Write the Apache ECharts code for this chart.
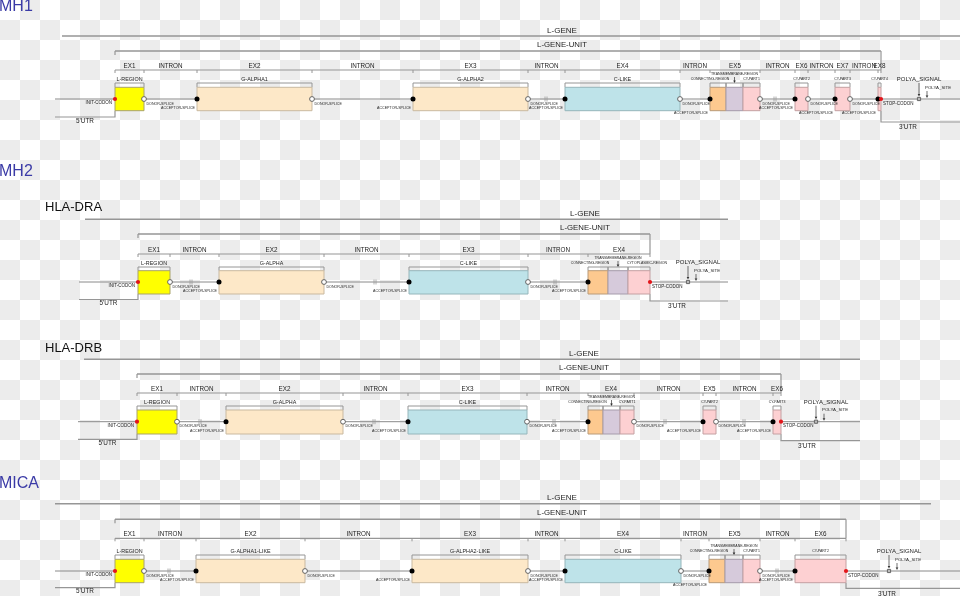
<!DOCTYPE html>
<html><head><meta charset="utf-8">
<script src="https://cdn.jsdelivr.net/npm/echarts@6/dist/echarts.min.js"></script>
<style>
html,body{margin:0;padding:0;width:960px;height:596px;overflow:hidden;
background-color:#fff;
background-image:repeating-conic-gradient(#ececec 0 25%, #ffffff 0 50%);
background-size:40px 40px;}
#main{width:960px;height:596px;}
</style></head><body><div id="main"></div>
<script>
// ================= DATA =================
const sectionTitles = ['MH1', 'MH2', 'MICA'];
const geneTitles = ['HLA-DRA', 'HLA-DRB'];
const exonPrefix = 'EX';
const intronLabel = 'INTRON';

// ---- MH1 ----
const mh1Span = [55, 960];
const mh1Gene = [62, 960];
const mh1Exons = [[115,144],[197,312],[413,528],[565,680],[710,760],[795,808],[835,850],[878,881]];
const mh1Regions = ['L-REGION','G-ALPHA1','G-ALPHA2','C-LIKE','CONNECTING-REGION','TRANSMEMBRANE-REGION','CY-PART1','CY-PART2','CY-PART3','CY-PART4'];
const mh1RegionSpans = [[115,144],[197,312],[413,528],[565,680],[710,726],[726,743],[743,760],[795,808],[835,850],[878,881]];
const mh1PolyA = [919, 927];
const mh1Breaks = [546, 775];

// ---- HLA-DRA ----
const draSpan = [79, 728];
const draGene = [85, 728];
const draExons = [[138,170],[219,324],[409,528],[588,650]];
const draRegions = ['L-REGION','G-ALPHA','C-LIKE','CONNECTING-REGION','TRANSMEMBRANE-REGION','CYTOPLASMIC-REGION'];
const draRegionSpans = [[138,170],[219,324],[409,528],[588,608],[608,628],[628,650]];
const draPolyA = [688, 696];
const draBreaks = [191, 375, 555];

// ---- HLA-DRB ----
const drbSpan = [78, 860];
const drbGene = [84, 860];
const drbExons = [[137,177],[226,343],[408,527],[588,634],[703,716],[773,781]];
const drbRegions = ['L-REGION','G-ALPHA','C-LIKE','CONNECTING-REGION','TRANSMEMBRANE-REGION','CY-PART1','CY-PART2','CY-PART3'];
const drbRegionSpans = [[137,177],[226,343],[408,527],[588,603],[603,620],[620,634],[703,716],[773,781]];
const drbPolyA = [816, 824];
const drbBreaks = [200, 374, 554, 665, 744];

// ---- MICA ----
const micaSpan = [55, 960];
const micaGene = [55, 931];
const micaExons = [[115,144],[196,305],[412,528],[565,681],[709,760],[795,846]];
const micaRegions = ['L-REGION','G-ALPHA1-LIKE','G-ALPHA2-LIKE','C-LIKE','CONNECTING-REGION','TRANSMEMBRANE-REGION','CY-PART1','CY-PART2'];
const micaRegionSpans = [[115,144],[196,305],[412,528],[565,681],[709,725],[725,743],[743,760],[795,846]];
const micaPolyA = [889, 897];
const micaBreaks = [169, 777];

const genes = [
  {span: mh1Span, gene: mh1Gene, exons: mh1Exons, regions: mh1Regions, regionSpans: mh1RegionSpans, polyA: mh1PolyA, breaks: mh1Breaks},
  {span: draSpan, gene: draGene, exons: draExons, regions: draRegions, regionSpans: draRegionSpans, polyA: draPolyA, breaks: draBreaks},
  {span: drbSpan, gene: drbGene, exons: drbExons, regions: drbRegions, regionSpans: drbRegionSpans, polyA: drbPolyA, breaks: drbBreaks},
  {span: micaSpan, gene: micaGene, exons: micaExons, regions: micaRegions, regionSpans: micaRegionSpans, polyA: micaPolyA, breaks: micaBreaks}
];

// ================= LAYOUT / STYLE =================
const sectionTitlePos = [[-1, 7], [-1, 172], [-1, 483.5]];
const geneTitlePos = [[45, 207], [45, 348.3]];
const panelLayout = [
  {backbone:99,    lgene:36,    unit:51,    exonRow:70,    regionRow:83,  boxTop:87.3,  boxBottom:110.7, utr5:117,   utr3:122,   labelX:562, utr3LabelX:908, polyaLabelX:919},
  {backbone:282,   lgene:219.3, unit:234,   exonRow:254,   regionRow:267, boxTop:270.7, boxBottom:294,   utr5:299.5, utr3:301,   labelX:585, utr3LabelX:677, polyaLabelX:698},
  {backbone:421.7, lgene:359.3, unit:374,   exonRow:393,   regionRow:406, boxTop:410,   boxBottom:434,   utr5:439.3, utr3:440.7, labelX:584, utr3LabelX:807, polyaLabelX:826},
  {backbone:571,   lgene:503.7, unit:519.3, exonRow:538.3, regionRow:555, boxTop:559.3, boxBottom:582.7, utr5:587.7, utr3:588.3, labelX:562, utr3LabelX:887, polyaLabelX:899}
];
const FONT = '"Liberation Sans", Arial, sans-serif';
const LINE = '#969696';
const TXT = '#1e1e1e';
const BLUE = '#3a3aa6';
function regionStyle(name){
  if (name.startsWith('L-')) return {fill:'#ffff00', stroke:'#a9a36a', small:false};
  if (name.startsWith('G-')) return {fill:'#fde8c8', stroke:'#c9b9a0', small:false};
  if (name.startsWith('C-LIKE')) return {fill:'#bee3e9', stroke:'#96b6bb', small:false};
  if (name.startsWith('CONNECTING')) return {fill:'#fdc98f', stroke:'#b99a78', small:true};
  if (name.startsWith('TRANSMEMBRANE')) return {fill:'#d6cadb', stroke:'#a69cab', small:true};
  return {fill:'#fdd0d2', stroke:'#c4a0a2', small:true};
}

// ================= BUILD ELEMENTS =================
const els = [];
function text(x, y, t, size, opts){
  els.push(Object.assign({k:'text', x, y, text:t, size, fill:TXT, align:'center', z:6}, opts||{}));
}
function line(x1, y1, x2, y2, color, w, z){ els.push({k:'line', x1, y1, x2, y2, color:color||LINE, w:w||1.2, z:z||0}); }

sectionTitles.forEach((t,i)=> text(sectionTitlePos[i][0], sectionTitlePos[i][1], t, 16, {fill:BLUE, align:'left'}));
geneTitles.forEach((t,i)=> text(geneTitlePos[i][0], geneTitlePos[i][1], t, 13, {fill:'#111', align:'left'}));

genes.forEach((g, gi)=>{
  const L = panelLayout[gi];
  const B = L.backbone;
  const n = g.exons.length;
  const first = g.exons[0][0], last = g.exons[n-1][1];
  // L-GENE
  line(g.gene[0], L.lgene, g.gene[1], L.lgene, LINE, 1.4);
  text(L.labelX, L.lgene-5.5, 'L-GENE', 8);
  // L-GENE-UNIT bracket
  line(first, L.unit, last, L.unit, LINE, 1.4);
  line(first, L.unit, first, L.unit+4, LINE, 1.2);
  line(last, L.unit, last, L.exonRow, LINE, 1.2);
  text(L.labelX, L.unit-6.2, 'L-GENE-UNIT', 7.8);
  // exon / intron row
  line(first, L.exonRow, last, L.exonRow, LINE, 1.2);
  g.exons.forEach(([a,b], i)=>{
    line(a, L.exonRow, a, L.exonRow+3, LINE, 1);
    line(b, L.exonRow, b, L.exonRow+3, LINE, 1);
    text((a+b)/2, L.exonRow-4, exonPrefix+(i+1), 6.3);
    if (i < n-1){ const c = g.exons[i+1][0]; text((b+c)/2, L.exonRow-4, intronLabel, 6.3); }
  });
  // backbone
  line(g.span[0], B, g.span[1], B, '#8a8a8a', 1);
  g.breaks.forEach(v=>{ line(v-1, B-2.5, v-1, B+2.5, '#9a9a9a', 0.8, 1); line(v+1, B-2.5, v+1, B+2.5, '#9a9a9a', 0.8, 1); });
  // UTRs
  els.push({k:'poly', pts:[[g.span[0], L.utr5],[first, L.utr5],[first, L.boxBottom]], color:LINE, w:1.2});
  text((g.span[0]+first)/2, L.utr5+4, "5'UTR", 6.4);
  els.push({k:'poly', pts:[[last, L.boxBottom],[last, L.utr3],[g.span[1], L.utr3]], color:LINE, w:1.2});
  text(L.utr3LabelX, L.utr3+5.5, "3'UTR", 6.4);
  // region boxes + brackets + labels
  g.regionSpans.forEach(([a,b], i)=>{
    const name = g.regions[i];
    const st = regionStyle(name);
    els.push({k:'rect', x1:a, y1:L.boxTop, x2:b, y2:L.boxBottom, fill:st.fill, stroke:st.stroke, z:2});
    line(a, L.regionRow, b, L.regionRow, LINE, 1, 1);
    line(a, L.regionRow, a, L.boxTop, LINE, 1, 1);
    line(b, L.regionRow, b, L.boxTop, LINE, 1, 1);
    if (name.startsWith('TRANSMEMBRANE')){
      const c = (a+b)/2;
      text(c, L.regionRow-8.8, name, 3.5);
      line(c, L.regionRow-6, c, L.regionRow-1, '#333', 0.7, 5);
      els.push({k:'tri', x:c, y:L.regionRow, z:5});
    } else if (name.startsWith('CONNECTING')){
      text((a+b)/2-8, L.regionRow-3.5, name, 3.5);
    } else if (st.small){
      if (name.length > 10) text(a-1, L.regionRow-3.5, name, 3.5, {align:'left'});
      else text((a+b)/2, L.regionRow-3.5, name, 3.5);
    } else {
      text((a+b)/2, L.regionRow-3.5, name, 5.4);
    }
  });
  // splice sites / codons
  g.exons.forEach(([a,b], i)=>{
    if (i === 0){
      els.push({k:'circle', x:a, y:B, r:2.1, fill:'#e3161b', stroke:null, z:4});
      text(a-3, B+4, 'INIT-CODON', 4.5, {align:'right'});
    } else {
      els.push({k:'circle', x:a, y:B, r:2.5, fill:'#000', stroke:null, z:4});
      const gap = a - g.exons[i-1][1];
      text(a-2, B + (gap < 32 ? 14 : 9), 'ACCEPTOR-SPLICE', 3.6, {align:'right'});
    }
    if (i === n-1){
      els.push({k:'circle', x:b, y:B, r:2.1, fill:'#e3161b', stroke:null, z:4});
      text(b+2, B+4.5, 'STOP-CODON', 4.5, {align:'left'});
    } else {
      els.push({k:'circle', x:b, y:B, r:2.4, fill:'#fff', stroke:'#555', z:4});
      text(b+2.5, B+4.5, 'DONOR-SPLICE', 3.6, {align:'left'});
    }
  });
  // poly-A
  const [ps, pt] = g.polyA;
  line(ps, B-16, ps, B-4, '#333', 0.7, 5);
  els.push({k:'tri', x:ps, y:B-2.5, z:5});
  els.push({k:'rect', x1:ps-1.6, y1:B-1.6, x2:ps+1.6, y2:B+1.6, fill:'#bbb', stroke:'#666', z:4});
  text(L.polyaLabelX, B-19.8, 'POLYA_SIGNAL', 6);
  line(pt, B-8, pt, B-3, '#333', 0.7, 5);
  els.push({k:'tri', x:pt, y:B-1, z:5});
  text(pt-2, B-11.7, 'POLYA_SITE', 4.4, {align:'left'});
});

// ================= RENDER =================
function renderItem(params, api){
  const e = els[params.dataIndex];
  const X = v => api.coord([v, 0])[0];
  const Y = v => api.coord([0, v])[1];
  switch (e.k){
    case 'line':
      return {type:'line', z2:e.z, shape:{x1:X(e.x1), y1:Y(e.y1), x2:X(e.x2), y2:Y(e.y2)}, style:{stroke:e.color, lineWidth:e.w}};
    case 'poly':
      return {type:'polyline', z2:0, shape:{points:e.pts.map(p=>[X(p[0]), Y(p[1])])}, style:{stroke:e.color, lineWidth:e.w, fill:null}};
    case 'rect':
      return {type:'rect', z2:e.z, shape:{x:X(e.x1), y:Y(e.y1), width:X(e.x2)-X(e.x1), height:Y(e.y2)-Y(e.y1)}, style:{fill:e.fill, stroke:e.stroke, lineWidth:1}};
    case 'circle':
      return {type:'circle', z2:e.z, shape:{cx:X(e.x), cy:Y(e.y), r:e.r}, style:{fill:e.fill, stroke:e.stroke, lineWidth:e.stroke?0.9:0}};
    case 'tri': {
      const cx = X(e.x), cy = Y(e.y);
      return {type:'polygon', z2:e.z, shape:{points:[[cx-1.3, cy-2.4],[cx+1.3, cy-2.4],[cx, cy]]}, style:{fill:'#333'}};
    }
    case 'text':
      return {type:'text', z2:e.z, x:X(e.x), y:Y(e.y), style:{text:e.text, fill:e.fill, font:e.size+'px '+FONT, align:e.align, verticalAlign:'middle', textAlign:e.align, textVerticalAlign:'middle'}};
  }
}

const chart = echarts.init(document.getElementById('main'), null, {renderer:'canvas'});
chart.setOption({
  animation:false,
  backgroundColor:'transparent',
  grid:{left:0, right:0, top:0, bottom:0},
  xAxis:{type:'value', min:0, max:960, show:false},
  yAxis:{type:'value', min:0, max:596, inverse:true, show:false},
  series:[{
    type:'custom',
    coordinateSystem:'cartesian2d',
    clip:false,
    silent:true,
    renderItem:renderItem,
    data: els.map(e => [e.x !== undefined ? e.x : (e.x1 !== undefined ? e.x1 : 0), e.y !== undefined ? e.y : (e.y1 !== undefined ? e.y1 : 0)])
  }]
});
</script></body></html>
